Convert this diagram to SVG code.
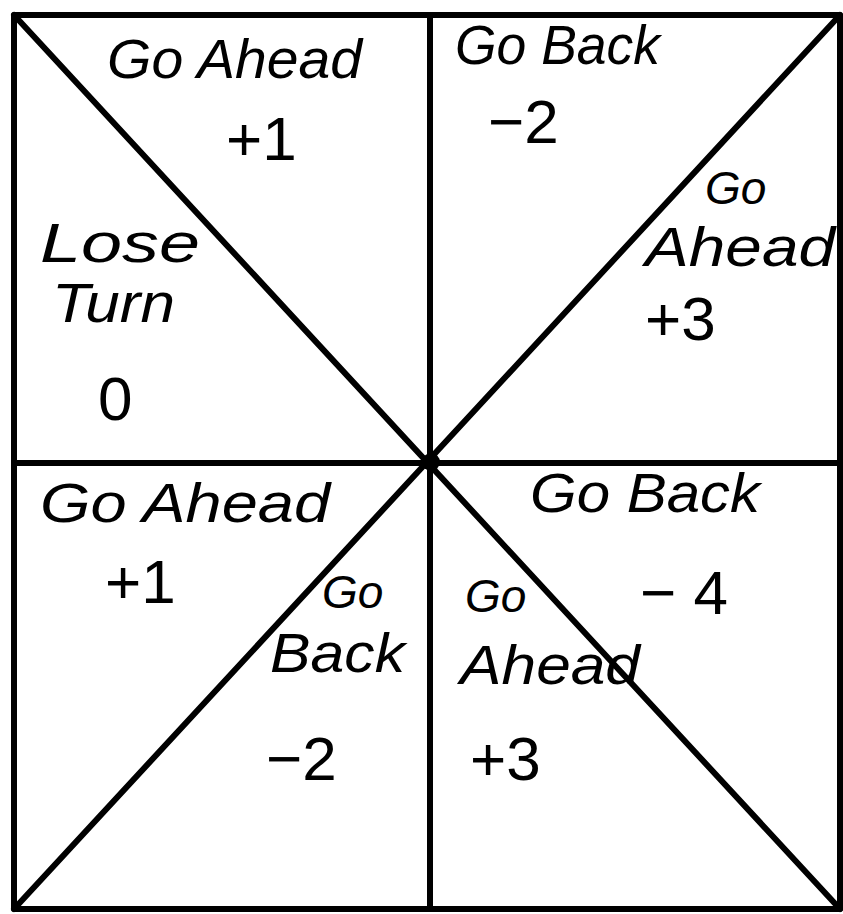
<svg xmlns="http://www.w3.org/2000/svg" width="843" height="914" viewBox="0 0 843 914">
<style>
.ln{stroke:#000;stroke-width:6;fill:none;stroke-linecap:round;stroke-linejoin:round}
.t{font-family:"Liberation Sans","DejaVu Sans",sans-serif;font-style:italic;fill:#000;font-size:56px}
.s{font-size:46px}
.n{font-family:"Liberation Sans","DejaVu Sans",sans-serif;fill:#000;font-size:62px}
</style>
<rect width="843" height="914" fill="#fff"/>
<g id="connectors">
<rect class="ln" x="14" y="15" width="826" height="894"/>
<line class="ln" x1="430" y1="15" x2="430" y2="909"/>
<line class="ln" x1="14" y1="463" x2="840" y2="463"/>
<line class="ln" x1="14" y1="15" x2="840" y2="909"/>
<line class="ln" x1="840" y1="15" x2="14" y2="909"/>
<circle cx="431" cy="462" r="9" fill="#000"/>
</g>
<g id="n1"><text class="t" x="107" y="78" textLength="255" lengthAdjust="spacingAndGlyphs">Go Ahead</text><text class="n" x="226" y="160">+1</text></g>
<g id="n2"><text class="t" x="455" y="64" textLength="205" lengthAdjust="spacingAndGlyphs">Go Back</text><text class="n" x="488" y="143">−2</text></g>
<g id="n3"><text class="t s" x="705" y="204">Go</text><text class="t" x="645" y="266" textLength="190" lengthAdjust="spacingAndGlyphs">Ahead</text><text class="n" x="645" y="340">+3</text></g>
<g id="n4"><text class="t" x="40" y="262" textLength="160" lengthAdjust="spacingAndGlyphs">Lose</text><text class="t" x="52" y="322" textLength="123" lengthAdjust="spacingAndGlyphs">Turn</text><text class="n" x="98" y="420">0</text></g>
<g id="n5"><text class="t" x="40" y="522" textLength="290" lengthAdjust="spacingAndGlyphs">Go Ahead</text><text class="n" x="105" y="603">+1</text></g>
<g id="n6"><text class="t" x="530" y="512" textLength="230" lengthAdjust="spacingAndGlyphs">Go Back</text><text class="n" x="640" y="614">− 4</text></g>
<g id="n7"><text class="t s" x="322" y="608">Go</text><text class="t" x="270" y="672" textLength="135" lengthAdjust="spacingAndGlyphs">Back</text><text class="n" x="266" y="780">−2</text></g>
<g id="n8"><text class="t s" x="465" y="612">Go</text><text class="t" x="460" y="684" textLength="180" lengthAdjust="spacingAndGlyphs">Ahead</text><text class="n" x="470" y="780">+3</text></g>
</svg>
